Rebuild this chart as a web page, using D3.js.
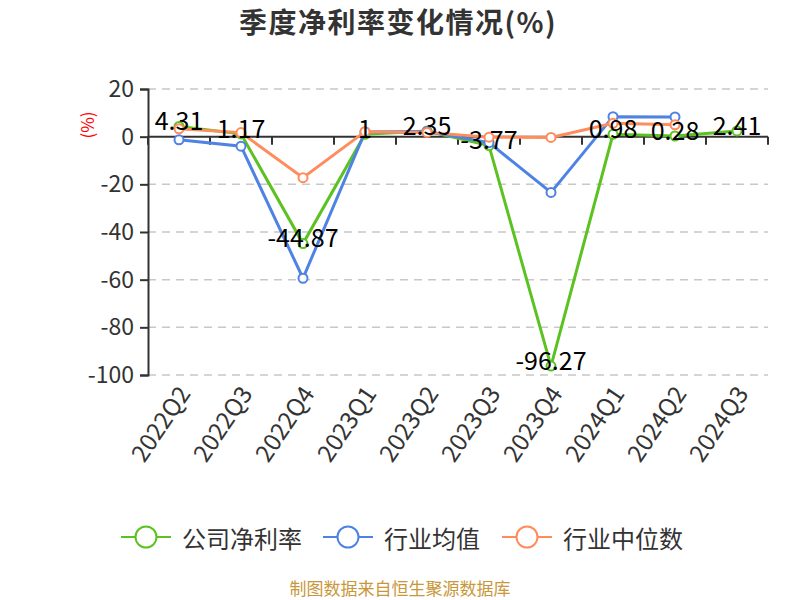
<!DOCTYPE html>
<html><head><meta charset="utf-8">
<script src="https://cdn.jsdelivr.net/npm/d3@7"></script>
<style>body{margin:0;background:#fff}svg{display:block}text{font-family:"Noto Sans CJK SC","Noto Sans",sans-serif}</style>
</head><body><svg id="c" width="800" height="600"></svg>
<script>
const categories = ["2022Q2","2022Q3","2022Q4","2023Q1","2023Q2","2023Q3","2023Q4","2024Q1","2024Q2","2024Q3"];
const companyMargin = [4.31, 1.17, -44.87, 1, 2.35, -3.77, -96.27, 0.98, 0.28, 2.41];
const industryAvg = [-1.3, -4.0, -59.4, 2.0, 2.2, -2.5, -23.4, 8.4, 8.3, null];
const industryMedian = [3.3, 1.7, -17.2, 2.1, 1.8, -0.2, -0.3, 5.6, 5.0, null];
const yTicks = [20, 0, -20, -40, -60, -80, -100];
const seriesNames = ["公司净利率", "行业均值", "行业中位数"];
const colors = ["#5cc221", "#4f83e3", "#ff8c5c"];

const svg = d3.select("#c");
const x = d3.scaleBand().domain(categories).range([148, 768]);
const y = d3.scaleLinear().domain([-100, 20]).range([375, 89]);

svg.append("text").attr("x", 398).attr("y", 33).attr("text-anchor", "middle")
  .attr("font-size", 28).attr("letter-spacing", 1.5).attr("font-weight", "bold").attr("fill", "#333").text("季度净利率变化情况(%)");

// grid
svg.append("g").selectAll("line").data(yTicks.filter(d => d !== 0)).join("line")
  .attr("x1", 148).attr("x2", 768).attr("y1", d => y(d)).attr("y2", d => y(d))
  .attr("stroke", "#c8c8c8").attr("stroke-width", 1.5).attr("stroke-dasharray", "8,6");

// y axis
const yAxis = svg.append("g").attr("transform", "translate(148,0)")
  .call(d3.axisLeft(y).tickValues(yTicks).tickSize(8).tickPadding(6).tickFormat(d => String(d)));
yAxis.select(".domain").attr("stroke", "#333").attr("stroke-width", 2);
yAxis.selectAll(".tick line").attr("stroke", "#333").attr("stroke-width", 2);
yAxis.selectAll(".tick text").attr("font-size", 23).attr("fill", "#333");

svg.append("text").attr("transform", "translate(94,125) rotate(-90)").attr("text-anchor", "middle")
  .attr("font-size", 17).attr("fill", "#ff0000").text("(%)");

// x axis at zero
const xAxis = svg.append("g").attr("transform", `translate(0,${y(0)})`);
xAxis.append("line").attr("x1", 148).attr("x2", 768).attr("stroke", "#333").attr("stroke-width", 2);
xAxis.selectAll("line.t").data(categories.map((c,i)=>i).concat([categories.length])).join("line").attr("class","t")
  .attr("x1", i => 148 + i * x.bandwidth()).attr("x2", i => 148 + i * x.bandwidth())
  .attr("y1", 0).attr("y2", 8).attr("stroke", "#333").attr("stroke-width", 2);

// category labels
svg.append("g").selectAll("text").data(categories).join("text")
  .attr("transform", d => `translate(${x(d) + x.bandwidth()/2 + 7},${390}) rotate(-56)`)
  .attr("text-anchor", "end").attr("dominant-baseline", "middle")
  .attr("font-size", 24).attr("fill", "#333").text(d => d);

const series = [companyMargin, industryAvg, industryMedian];
const line = d3.line().defined(d => d != null).x((d,i) => x(categories[i]) + x.bandwidth()/2).y(d => y(d));

series.forEach((s, k) => {
  const g = svg.append("g");
  g.append("path").datum(s).attr("d", line).attr("fill", "none").attr("stroke", colors[k]).attr("stroke-width", 3);
  g.selectAll("circle").data(s.map((v,i)=>({v,i})).filter(d => d.v != null)).join("circle")
    .attr("cx", d => x(categories[d.i]) + x.bandwidth()/2).attr("cy", d => y(d.v)).attr("r", 4.5)
    .attr("fill", "#fff").attr("stroke", colors[k]).attr("stroke-width", 2);
});

// labels for company
svg.append("g").selectAll("text").data(companyMargin).join("text")
  .attr("x", (d,i) => x(categories[i]) + x.bandwidth()/2).attr("y", d => y(d) - 3)
  .attr("text-anchor", "middle").attr("dominant-baseline", "middle")
  .attr("font-size", 25).attr("fill", "#000").text(d => d);

// legend
const legX = [121, 323, 502];
const lg = svg.append("g");
seriesNames.forEach((n, k) => {
  const g = lg.append("g").attr("transform", `translate(${legX[k]},537)`);
  g.append("line").attr("x1", 0).attr("x2", 50).attr("stroke", colors[k]).attr("stroke-width", 2);
  g.append("circle").attr("cx", 25).attr("cy", 0).attr("r", 10.5).attr("fill", "#fff").attr("stroke", colors[k]).attr("stroke-width", 2);
  g.append("text").attr("x", 61).attr("y", 0).attr("dominant-baseline", "central")
    .attr("font-size", 24).attr("fill", "#333").text(n);
});

svg.append("text").attr("x", 400).attr("y", 587).attr("text-anchor", "middle").attr("dominant-baseline", "central")
  .attr("font-size", 17).attr("fill", "#c9973a").text("制图数据来自恒生聚源数据库");
</script></body></html>
